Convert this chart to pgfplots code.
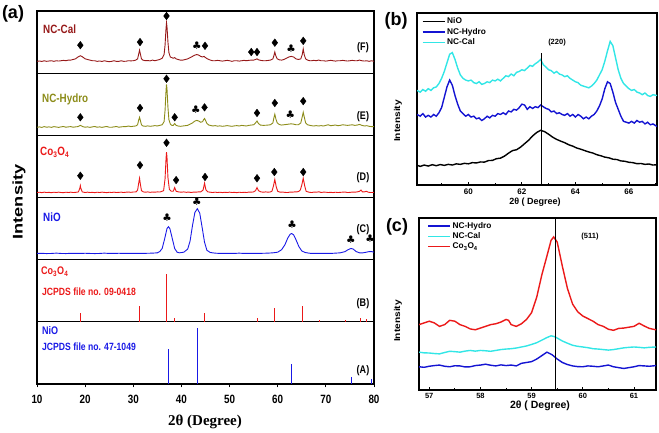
\documentclass[border=0pt]{standalone}
\usepackage{fontspec}
\setmainfont{Liberation Sans}
\newfontfamily\nfont[FakeStretch=0.82]{Liberation Sans}
\newfontfamily\serfont{Liberation Serif}
\newfontfamily\symfont{DejaVu Sans}
\usepackage{pgfplots}
\pgfplotsset{compat=1.18}
\usetikzlibrary{plotmarks}
\definecolor{ncal}{RGB}{150,25,25}
\definecolor{nhyd}{RGB}{140,140,25}
\definecolor{cored}{RGB}{235,25,25}
\definecolor{nioblue}{RGB}{25,25,230}
\definecolor{bblue}{RGB}{20,20,210}
\definecolor{bcyan}{RGB}{50,230,230}
\pgfplotsset{
 apanel/.style={scale only axis, width=337pt, height=62.17pt, xmin=10, xmax=80, ymin=0, ymax=1,
   ytick=\empty, xtick=\empty, axis line style={line width=1.1pt}, anchor=south west},
 dia/.style={only marks, mark=diamond*, mark size=3.8pt, black, mark options={fill=black}},
 club/.style={only marks, mark=text, text mark={\fontsize{10.5}{10.5}\selectfont\symfont ♣}},
 xrd/.style={line width=0.9pt},
 bcpanel/.style={scale only axis, anchor=south west, ymin=0, ymax=100, ytick=\empty,
   axis line style={line width=1.6pt}, xtick pos=bottom, tick align=inside,
   major tick length=3pt, minor tick length=2pt, tick style={black, line width=0.8pt},
   /pgf/number format/assume math mode=true,
   legend cell align=left,
   legend image code/.code={\draw[#1, line width=1.4pt] (0pt,0pt) -- (22pt,0pt);}},
}
\begin{document}
\begin{tikzpicture}
\useasboundingbox (0,0) rectangle (659pt,433pt);
% ---------- panel (a) ----------
% A : NiO reference
\begin{axis}[apanel, at={(37pt,49pt)}, xtick={10,20,...,80}, xtick pos=bottom, tick align=outside,
  major tick length=3.5pt, tick style={black, line width=0.8pt},
  /pgf/number format/assume math mode=true,
  xticklabel style={font=\fontsize{12}{14}\selectfont\nfont\bfseries, yshift=-4pt}]
\addplot[ycomb, nioblue, line width=1pt] coordinates {(37.3,0.56) (43.3,0.90) (62.9,0.32) (75.4,0.11) (79.4,0.08)};
\end{axis}
% B : Co3O4 reference
\begin{axis}[apanel, at={(37pt,111.17pt)}]
\addplot[ycomb, cored, line width=1pt] coordinates {(19.0,0.145) (31.3,0.26) (36.9,0.77) (38.6,0.065) (44.8,0.145) (55.7,0.065) (59.4,0.23) (65.2,0.26) (68.6,0.03) (74.1,0.03) (77.3,0.06) (78.4,0.04)};
\end{axis}
% C : NiO
\begin{axis}[apanel, at={(37pt,173.33pt)}]
\addplot[xrd, nioblue] coordinates {(10,0.1) (11,0.102) (12,0.098) (13,0.1) (14,0.105) (15,0.1) (16,0.098) (17,0.102) (18,0.1) (19,0.1) (20,0.103) (21,0.1) (22,0.098) (23,0.1) (24,0.105) (25,0.1) (26,0.1) (27,0.103) (28,0.1) (29,0.1) (30,0.102) (31,0.1) (32,0.1) (33,0.103) (34,0.105) (35,0.11) (35.5,0.13) (36,0.18) (36.5,0.33) (37.0,0.5) (37.3,0.53) (37.6,0.5) (38.1,0.34) (38.6,0.18) (39.1,0.12) (39.6,0.11) (40.5,0.12) (41.3,0.17) (41.8,0.3) (42.3,0.55) (42.8,0.76) (43.3,0.82) (43.8,0.75) (44.3,0.52) (44.8,0.28) (45.3,0.15) (46,0.115) (47,0.105) (48,0.1) (49,0.102) (50,0.1) (51,0.1) (52,0.105) (53,0.1) (54,0.1) (55,0.102) (56,0.1) (57,0.103) (58,0.105) (59,0.11) (60,0.12) (60.8,0.16) (61.5,0.24) (62.1,0.35) (62.6,0.41) (62.9,0.42) (63.3,0.4) (63.8,0.32) (64.4,0.21) (65,0.14) (65.7,0.115) (66.5,0.105) (67,0.1) (68,0.1) (69,0.102) (70,0.1) (71,0.1) (72,0.105) (73,0.11) (74,0.13) (74.6,0.16) (75.2,0.18) (75.7,0.17) (76.3,0.13) (77,0.11) (77.7,0.11) (78.4,0.12) (79,0.13) (79.5,0.13) (80,0.12)};
\addplot[club] coordinates {(37.0,0.67) (43.2,0.93) (63.0,0.56) (75.2,0.32) (79.2,0.33)};
\end{axis}
% D : Co3O4
\begin{axis}[apanel, at={(37pt,235.5pt)}]
\addplot[xrd, cored] coordinates {(10,0.08) (10.5,0.085) (11,0.078) (11.5,0.086) (12,0.08) (12.5,0.083) (13,0.077) (13.5,0.085) (14,0.08) (14.5,0.086) (15,0.08) (15.5,0.078) (16,0.085) (16.5,0.08) (17,0.086) (17.5,0.08) (18,0.082) (18.6,0.09) (18.9,0.15) (19.0,0.19) (19.1,0.15) (19.4,0.09) (20,0.08) (20.5,0.086) (21,0.08) (21.5,0.083) (22,0.078) (22.5,0.085) (23,0.08) (23.5,0.086) (24,0.082) (24.5,0.078) (25,0.085) (25.5,0.08) (26,0.086) (26.5,0.08) (27,0.083) (27.5,0.086) (28,0.08) (28.5,0.085) (29,0.088) (29.5,0.083) (30,0.088) (30.6,0.09) (30.9,0.12) (31.1,0.22) (31.3,0.31) (31.5,0.2) (31.7,0.11) (32.1,0.09) (32.5,0.085) (33,0.09) (33.5,0.083) (34,0.088) (34.5,0.085) (35,0.09) (35.5,0.088) (35.8,0.095) (36.3,0.11) (36.6,0.3) (36.8,0.62) (36.9,0.73) (37.0,0.65) (37.2,0.32) (37.5,0.13) (37.9,0.1) (38.3,0.1) (38.6,0.16) (38.9,0.1) (39.4,0.09) (40,0.085) (40.5,0.09) (41,0.083) (41.5,0.088) (42,0.08) (42.5,0.087) (43,0.085) (43.5,0.09) (44,0.09) (44.5,0.12) (44.8,0.23) (45.1,0.12) (45.5,0.09) (46,0.085) (46.5,0.08) (47,0.086) (47.5,0.08) (48,0.085) (48.5,0.079) (49,0.084) (49.5,0.08) (50,0.086) (50.5,0.08) (51,0.083) (51.5,0.078) (52,0.085) (52.5,0.08) (53,0.084) (53.5,0.08) (54,0.087) (54.5,0.085) (55,0.09) (55.4,0.11) (55.7,0.16) (56,0.11) (56.5,0.09) (57,0.085) (57.5,0.09) (58,0.085) (58.5,0.09) (58.8,0.1) (59.1,0.18) (59.4,0.29) (59.7,0.17) (60,0.1) (60.5,0.085) (61,0.088) (61.5,0.082) (62,0.08) (62.5,0.086) (63,0.085) (63.5,0.09) (64,0.09) (64.4,0.1) (64.7,0.12) (65.0,0.2) (65.3,0.31) (65.6,0.19) (65.9,0.1) (66.5,0.085) (67,0.08) (67.5,0.086) (68,0.085) (68.6,0.092) (69,0.08) (69.5,0.086) (70,0.085) (70.5,0.08) (71,0.083) (71.5,0.079) (72,0.085) (72.5,0.08) (73,0.083) (73.5,0.086) (74,0.088) (74.5,0.08) (75,0.082) (75.5,0.087) (76,0.085) (76.5,0.09) (77,0.1) (77.3,0.12) (77.6,0.09) (78,0.09) (78.4,0.1) (78.8,0.085) (79.3,0.08) (80,0.082)};
\addplot[dia] coordinates {(19.0,0.35) (31.4,0.52) (36.9,0.88) (38.9,0.28) (44.9,0.33) (55.7,0.31) (59.3,0.41) (65.3,0.41)};
\end{axis}
% E : NC-Hydro
\begin{axis}[apanel, at={(37pt,297.67pt)}]
\addplot[xrd, nhyd] coordinates {(10,0.13) (10.5,0.135) (11,0.128) (11.5,0.14) (12,0.13) (12.5,0.136) (13,0.128) (13.5,0.14) (14,0.134) (14.5,0.128) (15,0.136) (15.5,0.142) (16,0.13) (16.5,0.136) (17,0.14) (17.5,0.13) (18,0.136) (18.5,0.14) (19,0.16) (19.5,0.14) (20,0.13) (20.5,0.136) (21,0.128) (21.5,0.136) (22,0.142) (22.5,0.13) (23,0.136) (23.5,0.128) (24,0.136) (24.5,0.142) (25,0.13) (25.5,0.13) (26,0.136) (26.5,0.142) (27,0.13) (27.5,0.136) (28,0.14) (28.5,0.14) (29,0.15) (29.5,0.14) (30,0.146) (30.5,0.15) (30.9,0.17) (31.1,0.24) (31.3,0.29) (31.5,0.23) (31.7,0.17) (32,0.15) (32.5,0.145) (33,0.152) (33.5,0.145) (34,0.15) (34.5,0.156) (35,0.15) (35.5,0.16) (36,0.17) (36.4,0.22) (36.6,0.4) (36.8,0.72) (36.9,0.82) (37.0,0.75) (37.2,0.45) (37.4,0.25) (37.7,0.18) (38,0.16) (38.3,0.16) (38.6,0.19) (38.9,0.16) (39.3,0.15) (39.8,0.145) (40.3,0.15) (40.8,0.155) (41.3,0.16) (41.8,0.18) (42.3,0.2) (42.8,0.23) (43.2,0.24) (43.6,0.23) (44,0.21) (44.4,0.22) (44.6,0.25) (44.8,0.27) (45,0.24) (45.3,0.19) (45.7,0.165) (46,0.16) (46.5,0.15) (47,0.156) (47.5,0.148) (48,0.152) (48.5,0.145) (49,0.15) (49.5,0.156) (50,0.15) (50.5,0.145) (51,0.152) (51.5,0.156) (52,0.15) (52.5,0.16) (53,0.155) (53.5,0.15) (54,0.16) (54.5,0.165) (55,0.17) (55.4,0.2) (55.7,0.23) (56,0.19) (56.4,0.165) (57,0.16) (57.5,0.162) (58,0.165) (58.5,0.17) (59,0.2) (59.2,0.28) (59.4,0.34) (59.6,0.27) (59.9,0.2) (60.3,0.175) (60.8,0.165) (61.3,0.17) (61.8,0.175) (62.3,0.18) (62.8,0.185) (63.3,0.18) (63.8,0.17) (64.3,0.17) (64.8,0.2) (65.1,0.3) (65.3,0.37) (65.5,0.3) (65.8,0.2) (66.2,0.17) (66.7,0.16) (67,0.155) (67.5,0.15) (68,0.156) (68.5,0.15) (69,0.156) (69.5,0.15) (70,0.16) (70.5,0.17) (71,0.155) (71.5,0.16) (72,0.166) (72.5,0.155) (73,0.16) (73.5,0.17) (74,0.165) (74.5,0.16) (75,0.165) (75.5,0.17) (76,0.16) (76.5,0.165) (77,0.175) (77.5,0.16) (78,0.15) (78.5,0.155) (79,0.145) (79.5,0.14) (80,0.14)};
\addplot[dia] coordinates {(19.0,0.29) (31.4,0.44) (36.9,0.91) (38.6,0.29) (44.8,0.45) (55.7,0.36) (59.4,0.52) (65.3,0.55)};
\addplot[club] coordinates {(43.0,0.41) (62.6,0.33)};
\end{axis}
% F : NC-Cal
\begin{axis}[apanel, at={(37pt,359.83pt)}]
\addplot[xrd, ncal] coordinates {(10,0.19) (10.5,0.196) (11,0.188) (11.5,0.2) (12,0.19) (12.5,0.196) (13,0.2) (13.5,0.19) (14,0.2) (14.5,0.195) (15,0.2) (15.5,0.206) (16,0.2) (16.5,0.21) (17,0.21) (17.5,0.22) (18,0.23) (18.5,0.26) (19,0.28) (19.5,0.26) (20,0.23) (20.5,0.22) (21,0.21) (21.5,0.2) (22,0.2) (22.5,0.19) (23,0.196) (23.5,0.188) (24,0.2) (24.5,0.19) (25,0.185) (25.5,0.19) (26,0.2) (26.5,0.19) (27,0.19) (27.5,0.2) (28,0.19) (28.5,0.192) (29,0.2) (29.5,0.198) (30,0.2) (30.5,0.21) (30.9,0.23) (31.1,0.3) (31.3,0.37) (31.5,0.3) (31.7,0.23) (32,0.21) (32.5,0.2) (33,0.203) (33.5,0.198) (34,0.21) (34.5,0.2) (35,0.21) (35.5,0.22) (36,0.24) (36.4,0.3) (36.6,0.45) (36.8,0.72) (36.9,0.81) (37.0,0.75) (37.2,0.5) (37.4,0.33) (37.7,0.26) (38,0.25) (38.3,0.24) (38.6,0.25) (38.9,0.23) (39.3,0.22) (39.8,0.21) (40.3,0.21) (40.8,0.22) (41.3,0.23) (41.8,0.25) (42.3,0.27) (42.8,0.29) (43.2,0.3) (43.6,0.29) (44,0.27) (44.4,0.26) (44.7,0.27) (45,0.25) (45.4,0.23) (46,0.21) (46.5,0.2) (47,0.2) (47.5,0.206) (48,0.2) (48.5,0.194) (49,0.2) (49.5,0.206) (50,0.2) (50.5,0.19) (51,0.2) (51.5,0.2) (52,0.194) (52.5,0.2) (53,0.206) (53.5,0.2) (54,0.206) (54.5,0.21) (55,0.21) (55.4,0.22) (55.7,0.23) (56,0.215) (56.5,0.205) (57,0.2) (57.5,0.2) (58,0.205) (58.5,0.21) (59,0.23) (59.2,0.28) (59.4,0.34) (59.6,0.28) (59.9,0.23) (60.3,0.215) (60.8,0.21) (61.3,0.22) (61.8,0.24) (62.3,0.26) (62.8,0.27) (63.3,0.26) (63.8,0.23) (64.3,0.22) (64.8,0.23) (65.1,0.3) (65.3,0.39) (65.5,0.3) (65.8,0.23) (66.2,0.21) (66.7,0.2) (67,0.2) (67.5,0.206) (68,0.2) (68.5,0.21) (69,0.2) (69.5,0.2) (70,0.194) (70.5,0.2) (71,0.206) (71.5,0.2) (72,0.194) (72.5,0.2) (73,0.2) (73.5,0.206) (74,0.2) (74.5,0.195) (75,0.2) (75.5,0.206) (76,0.2) (76.5,0.2) (77,0.21) (77.5,0.2) (78,0.195) (78.5,0.2) (79,0.19) (79.5,0.2) (80,0.19)};
\addplot[dia] coordinates {(19.0,0.45) (31.4,0.50) (36.9,0.92) (44.9,0.44) (54.5,0.34) (55.7,0.34) (59.4,0.49) (65.3,0.52)};
\addplot[club] coordinates {(43.2,0.45) (62.8,0.39)};
\end{axis}
% ---------- panel (b) ----------
\begin{axis}[bcpanel, at={(417pt,248pt)}, width=240pt, height=172pt, xmin=58.08, xmax=67.05,
  xtick={60,62,64,66}, minor xtick={59,61,63,65,67},
  xticklabel style={font=\fontsize{8}{9}\selectfont\bfseries, yshift=0pt},
  legend style={at={(0.015,0.99)}, anchor=north west, draw=none, fill=none,
    font=\fontsize{8.3}{9}\selectfont\bfseries, row sep=-1pt, inner sep=1pt}]
\addplot[black, line width=1.4pt] coordinates {(58.08,11.5) (58.2,10.8) (58.35,11.6) (58.5,11.0) (58.65,11.8) (58.8,11.2) (58.95,11.9) (59.1,11.4) (59.25,12.0) (59.4,11.6) (59.55,12.3) (59.7,12.0) (59.85,12.6) (60.0,12.3) (60.15,13.0) (60.3,12.8) (60.45,13.4) (60.6,13.3) (60.75,14.2) (60.9,14.3) (61.05,15.3) (61.2,15.6) (61.35,16.8) (61.5,18.5) (61.65,20.0) (61.8,20.5) (61.95,22.0) (62.1,24.0) (62.25,26.0) (62.4,28.5) (62.55,30.5) (62.7,31.8) (62.85,31.0) (63.0,29.5) (63.15,27.8) (63.3,26.5) (63.45,25.5) (63.6,24.6) (63.75,23.4) (63.9,22.6) (64.05,21.5) (64.2,20.8) (64.35,20.0) (64.5,19.2) (64.65,18.6) (64.8,17.6) (64.95,17.0) (65.1,16.2) (65.25,15.8) (65.4,15.0) (65.55,14.8) (65.7,14.0) (65.85,13.8) (66.0,13.2) (66.15,13.0) (66.3,12.4) (66.45,12.5) (66.6,12.0) (66.75,12.2) (66.9,11.6) (67.05,11.8)};
\addlegendentry{NiO}
\addplot[bblue, line width=1.4pt] coordinates {(58.08,41) (58.2,40) (58.3,41.5) (58.4,39.5) (58.5,40.5) (58.6,39.5) (58.7,41) (58.8,40) (58.9,42) (59.0,45) (59.1,51) (59.2,57) (59.3,61) (59.4,58) (59.5,52) (59.6,47) (59.7,43) (59.8,41.5) (59.9,40) (60.0,41) (60.1,39.5) (60.2,40) (60.3,38.5) (60.4,39) (60.5,37.5) (60.6,38.5) (60.7,40) (60.8,39) (60.9,40.5) (61.0,40) (61.1,41.5) (61.2,41) (61.3,42) (61.4,41) (61.5,43) (61.6,42.5) (61.7,44) (61.8,43.5) (61.9,45) (62.0,47) (62.1,46.5) (62.2,44) (62.3,45.5) (62.4,44.5) (62.5,45.5) (62.6,45) (62.7,46.5) (62.8,45.5) (62.9,44.5) (63.0,44) (63.1,42.5) (63.2,43) (63.3,41.5) (63.4,42) (63.5,41) (63.6,40.5) (63.7,41.5) (63.8,40) (63.9,41) (64.0,39.5) (64.1,41) (64.2,40) (64.3,38.5) (64.4,39.5) (64.5,38.5) (64.6,40) (64.7,41) (64.8,43) (64.9,46) (65.0,50) (65.1,56) (65.2,60) (65.3,59) (65.4,54) (65.5,48) (65.6,44) (65.7,40) (65.8,37) (65.9,36.5) (66.0,36) (66.1,37) (66.2,36) (66.3,37.5) (66.4,36.5) (66.5,37) (66.6,35.5) (66.7,36.5) (66.8,35) (66.9,35.5) (67.05,34)};
\addlegendentry{NC-Hydro}
\addplot[bcyan, line width=1.4pt] coordinates {(58.08,55) (58.2,54) (58.3,55.5) (58.4,54.5) (58.5,56) (58.6,55) (58.7,56.5) (58.8,57) (58.9,59) (59.0,62) (59.1,66) (59.2,71) (59.3,76) (59.4,77) (59.5,73) (59.6,68) (59.7,64) (59.8,62) (59.9,61) (60.0,60.5) (60.1,61) (60.2,59.5) (60.3,59) (60.4,60) (60.5,58.5) (60.6,59) (60.7,60) (60.8,59.5) (60.9,61) (61.0,60.5) (61.1,61.5) (61.2,60.5) (61.3,62) (61.4,63.5) (61.5,63) (61.6,64.5) (61.7,63.5) (61.8,65.5) (61.9,66) (62.0,67) (62.1,66.5) (62.2,68) (62.3,69.5) (62.4,69) (62.5,70.5) (62.6,71.5) (62.7,73) (62.8,70) (62.9,68.5) (63.0,67) (63.1,66.5) (63.2,65) (63.3,66) (63.4,64.5) (63.5,64) (63.6,63) (63.7,63.5) (63.8,62) (63.9,61) (64.0,60) (64.1,59.5) (64.2,58) (64.3,57.5) (64.4,57) (64.5,56.5) (64.6,57.5) (64.7,59) (64.8,61) (64.9,64) (65.0,67) (65.1,72) (65.2,78) (65.3,83.5) (65.4,81) (65.5,74) (65.6,67) (65.7,62) (65.8,59) (65.9,57.5) (66.0,56) (66.1,55) (66.2,55.5) (66.3,54) (66.4,53.5) (66.5,52.5) (66.6,53.5) (66.7,52) (66.8,51.5) (66.9,52.5) (67.05,52)};
\addlegendentry{NC-Cal}
\draw[black, line width=0.8pt] (axis cs:62.72,0) -- (axis cs:62.72,76.7);
\end{axis}
% ---------- panel (c) ----------
\begin{axis}[bcpanel, at={(419pt,43pt)}, width=237pt, height=172pt, xmin=56.8, xmax=61.43,
  xtick={57,58,59,60,61}, minor xtick={57.5,58.5,59.5,60.5},
  xticklabel style={font=\fontsize{7.5}{9}\selectfont\bfseries, yshift=0pt},
  legend style={at={(0.03,0.995)}, anchor=north west, draw=none, fill=none,
    font=\fontsize{8.3}{9}\selectfont\bfseries, row sep=-1pt, inner sep=1pt}]
\addplot[bblue, line width=1.4pt] coordinates {(56.8,13.5) (56.9,13.2) (57.0,13.8) (57.1,14.2) (57.2,14.5) (57.3,13.8) (57.4,13.5) (57.5,14.1) (57.6,14) (57.7,13.4) (57.8,13.5) (57.9,14.2) (58.0,14.5) (58.1,15) (58.2,14.4) (58.3,14) (58.4,14.6) (58.5,14.2) (58.6,14.5) (58.7,14) (58.8,15.5) (58.9,16) (59.0,16.5) (59.1,18) (59.2,20) (59.3,22) (59.4,20.5) (59.5,18) (59.6,16) (59.7,14.8) (59.8,14) (59.9,13.6) (60.0,13.5) (60.1,14) (60.2,13.8) (60.3,13.5) (60.4,14) (60.5,14.5) (60.6,13.5) (60.7,13) (60.8,12.5) (60.9,13) (61.0,13.5) (61.1,14.2) (61.2,14) (61.3,13.8) (61.43,14.2)};
\addlegendentry{NC-Hydro}
\addplot[bcyan, line width=1.4pt] coordinates {(56.8,22) (56.9,21.6) (57.0,21.5) (57.1,21.2) (57.2,21) (57.3,21.8) (57.4,22.5) (57.5,22.3) (57.6,22) (57.7,22.6) (57.8,23) (57.9,22.6) (58.0,23) (58.1,22.8) (58.2,22.5) (58.3,23) (58.4,23.5) (58.5,23.8) (58.6,24) (58.7,24.4) (58.8,25) (58.9,25.6) (59.0,26.5) (59.1,27.5) (59.2,29) (59.3,30.5) (59.38,31.5) (59.45,31) (59.5,30.2) (59.6,28.5) (59.7,27.2) (59.8,26) (59.9,25.4) (60.0,25) (60.1,24.6) (60.2,24) (60.3,23.8) (60.4,23.5) (60.5,23.2) (60.6,23.5) (60.7,24) (60.8,24.5) (60.9,24.8) (61.0,25) (61.1,24.8) (61.2,24.5) (61.3,24.8) (61.43,25)};
\addlegendentry{NC-Cal}
\addplot[cored, line width=1.4pt] coordinates {(56.8,38) (56.9,39) (57.0,40) (57.1,39) (57.2,37) (57.3,38) (57.4,40.5) (57.5,40) (57.6,38) (57.7,37) (57.8,35.5) (57.9,35) (58.0,36) (58.1,37) (58.2,38) (58.3,38.5) (58.4,39.5) (58.5,41) (58.55,40.5) (58.6,38) (58.7,37) (58.8,38.5) (58.9,41) (59.0,45) (59.1,54) (59.2,67) (59.3,78) (59.38,87) (59.43,89) (59.5,86) (59.6,72) (59.7,59) (59.8,50) (59.9,45.5) (60.0,43) (60.1,41.5) (60.2,40) (60.3,38) (60.4,37) (60.5,35.3) (60.6,34.7) (60.7,35.8) (60.8,36) (60.9,36.5) (61.0,37) (61.1,38.8) (61.2,37.2) (61.3,35.8) (61.43,35)};
\addlegendentry{Co\textsubscript{3}O\textsubscript{4}}
\draw[black, line width=0.8pt] (axis cs:59.46,0) -- (axis cs:59.46,100);
\end{axis}
% ---------- texts ----------
\node[font=\fontsize{18}{20}\selectfont\bfseries] at (13pt,419pt) {(a)};
\node[font=\fontsize{18}{20}\selectfont\bfseries] at (396pt,412pt) {(b)};
\node[font=\fontsize{18}{20}\selectfont\bfseries] at (397pt,206pt) {(c)};
\node[rotate=90, font=\fontsize{14}{16}\selectfont\bfseries] at (19pt,231pt) {\scalebox{1.3}[1]{Intensity}};
\node[font=\fontsize{15}{17}\selectfont\serfont\bfseries] at (205pt,11pt) {2θ (Degree)};
\node[anchor=base west, text=ncal, font=\fontsize{12}{14}\selectfont\nfont\bfseries, inner sep=0pt] at (43pt,399pt) {NC-Cal};
\node[anchor=base west, text=nhyd, font=\fontsize{12}{14}\selectfont\nfont\bfseries, inner sep=0pt] at (42pt,330pt) {NC-Hydro};
\node[anchor=base west, text=cored, font=\fontsize{12}{14}\selectfont\nfont\bfseries, inner sep=0pt] at (40pt,277pt) {Co\textsubscript{3}O\textsubscript{4}};
\node[anchor=base west, text=nioblue, font=\fontsize{12}{14}\selectfont\nfont\bfseries, inner sep=0pt] at (43pt,211pt) {NiO};
\node[anchor=base west, text=cored, font=\fontsize{11}{13}\selectfont\nfont\bfseries, inner sep=0pt] at (41pt,158pt) {Co\textsubscript{3}O\textsubscript{4}};
\node[anchor=base west, text=cored, font=\fontsize{10.5}{13}\selectfont\nfont\bfseries, inner sep=0pt] at (42pt,137pt) {JCPDS file no. 09-0418};
\node[anchor=base west, text=nioblue, font=\fontsize{11}{13}\selectfont\nfont\bfseries, inner sep=0pt] at (42pt,98pt) {NiO};
\node[anchor=base west, text=nioblue, font=\fontsize{10.5}{13}\selectfont\nfont\bfseries, inner sep=0pt] at (42pt,82pt) {JCPDS file no. 47-1049};
\foreach \lab/\yy in {F/385, E/316, D/255.5, C/203, B/129, A/62}{
  \node[font=\fontsize{11}{13}\selectfont\nfont\bfseries] at (363pt,\yy pt) {(\lab)};
}
\node[rotate=90, font=\fontsize{8.5}{10}\selectfont\bfseries] at (398pt,312pt) {\scalebox{1.2}[1]{Intensity}};
\node[rotate=90, font=\fontsize{8.5}{10}\selectfont\bfseries] at (398pt,112pt) {\scalebox{1.2}[1]{Intensity}};
\node[font=\fontsize{7.5}{9}\selectfont\bfseries] at (557pt,390pt) {(220)};
\node[font=\fontsize{7.5}{9}\selectfont\bfseries] at (590pt,196.5pt) {(511)};
\node[font=\fontsize{9}{10}\selectfont\bfseries] at (535pt,230.5pt) {2θ ( Degree)};
\node[font=\fontsize{10.5}{12}\selectfont\bfseries] at (540pt,27.5pt) {2θ ( Degree)};
\end{tikzpicture}
\end{document}
